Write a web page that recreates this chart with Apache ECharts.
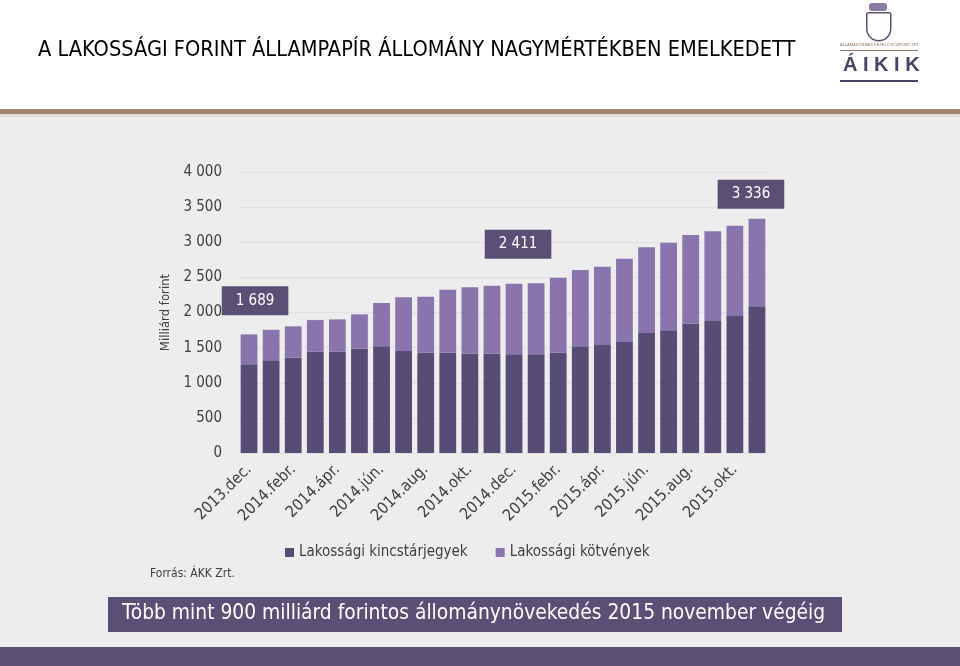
<!DOCTYPE html>
<html><head><meta charset="utf-8">
<script src="https://cdn.jsdelivr.net/npm/echarts@6/dist/echarts.min.js"></script>
<style>html,body{margin:0;padding:0;background:#eeedee;}#c{width:960px;height:666px;}</style>
</head><body><div id="c"></div>
<script>
const categories = ['2013.dec.','2014.jan.','2014.febr.','2014.márc.','2014.ápr.','2014.máj.','2014.jún.','2014.júl.','2014.aug.','2014.szept.','2014.okt.','2014.nov.','2014.dec.','2015.jan.','2015.febr.','2015.márc.','2015.ápr.','2015.máj.','2015.jún.','2015.júl.','2015.aug.','2015.szept.','2015.okt.','2015.nov.'];
const kincstarjegyek = [1265,1322,1361,1441,1441,1489,1518,1451,1432,1426,1418,1412,1404,1404,1426,1518,1536,1579,1707,1746,1845,1878,1949,2088];
const kotvenyek = [424,432,442,451,461,485,617,765,792,898,940,969,1007,1011,1069,1087,1116,1187,1221,1248,1259,1278,1287,1248];
const seriesNames = ['Lakossági kincstárjegyek','Lakossági kötvények'];
const yTicks = [0,500,1000,1500,2000,2500,3000,3500,4000];
const calloutIdx = [0,12,23];

const totals = kincstarjegyek.map((v,i)=>v+kotvenyek[i]);
const fmt = n => String(n).replace(/\B(?=(\d{3})+(?!\d))/g,' ');
const calloutOffsets = {0:[6,0],12:[4,0],23:[-6,0]};
const calloutDist = {0:19,12:25,23:10};
const COND = '"DejaVu Sans Condensed","Liberation Sans Narrow","DejaVu Sans",sans-serif';

const chart = echarts.init(document.getElementById('c'), null, {renderer:'canvas'});
chart.setOption({
  backgroundColor:'#eeedee',
  animation:false,
  graphic:[
    {type:'rect',left:0,top:0,shape:{width:960,height:109},style:{fill:'#ffffff'},z:-1},
    {type:'rect',left:0,top:109,shape:{width:960,height:5},style:{fill:'#a2836b'},z:-1},
    {type:'rect',left:0,top:114,shape:{width:960,height:3},style:{fill:'#e4ddd6'},z:-1},
    {type:'rect',left:0,top:647,shape:{width:960,height:19},style:{fill:'#5b4f76'},z:-1},
    {type:'text',left:38,top:39,style:{text:'A LAKOSSÁGI FORINT ÁLLAMPAPÍR ÁLLOMÁNY NAGYMÉRTÉKBEN EMELKEDETT',fill:'#000000',font:'21.6px "Liberation Sans Narrow","DejaVu Sans Condensed",sans-serif'}},
    {type:'text',left:843,top:55,style:{text:'Á I K I K',fill:'#4a4466',font:'bold 20px "Liberation Sans",sans-serif'}},
    {type:'rect',left:840,top:50,shape:{width:78,height:1},style:{fill:'#8a6f5a'}},
    {type:'rect',left:840,top:80,shape:{width:78,height:2},style:{fill:'#4a4466'}},
    {type:'text',left:840,top:43,style:{text:'ÁLLAMADÓSSÁG KEZELŐ KÖZPONT ZRT.',fill:'#8a6f5a',font:'4px sans-serif'}},
    {type:'rect',left:866,top:12,shape:{width:24,height:28,r:[2,2,12,12]},style:{fill:'#ffffff',stroke:'#5b4f76',lineWidth:1.5}},
    {type:'rect',left:869,top:3,shape:{width:18,height:8,r:3},style:{fill:'#8b7aa8'}},
    {type:'text',left:150,top:568,style:{text:'Forrás: ÁKK Zrt.',fill:'#3f3f3f',font:'12px '+COND}},
    {type:'rect',left:108,top:597,shape:{width:734,height:35},style:{fill:'#5b4f76'}},
    {type:'text',left:122,top:603,style:{text:'Több mint 900 milliárd forintos állománynövekedés 2015 november végéig',fill:'#ffffff',font:'20.8px '+COND}}
  ],
  grid:{left:238,right:192,top:172,bottom:213,containLabel:false},
  legend:{
    data:seriesNames,left:280,top:540,itemWidth:9,itemHeight:9,itemGap:28,icon:'rect',
    textStyle:{color:'#404040',fontSize:15,fontFamily:COND}
  },
  xAxis:{
    type:'category',data:categories,
    axisLine:{show:false},axisTick:{show:false},
    axisLabel:{interval:1,rotate:45,color:'#404040',fontSize:16,fontFamily:COND,margin:14}
  },
  yAxis:{
    type:'value',min:0,max:4000,interval:500,
    name:'Milliárd forint',nameLocation:'middle',nameGap:53,
    nameTextStyle:{color:'#404040',fontSize:13,fontFamily:COND},
    axisLine:{show:false},axisTick:{show:false},
    splitLine:{lineStyle:{color:'#e2e0e2',width:1}},
    axisLabel:{color:'#404040',fontSize:15,fontFamily:COND,margin:16,
      formatter:v=>yTicks.includes(v)?fmt(v):''}
  },
  series:[
    {name:seriesNames[0],type:'bar',stack:'t',data:kincstarjegyek,barCategoryGap:'24%',
      itemStyle:{color:'#574c74'}},
    {name:seriesNames[1],type:'bar',stack:'t',barCategoryGap:'24%',
      itemStyle:{color:'#8a74ae'},
      data:kotvenyek.map((v,i)=>{
        const d={value:v};
        if(calloutIdx.includes(i)){
          d.label={show:true,position:'top',distance:calloutDist[i],
            offset:calloutOffsets[i],
            formatter:()=>fmt(totals[i]),
            backgroundColor:'#5b4f76',color:'#ffffff',fontSize:15,fontFamily:COND,
            padding:[7,14,7,14]};
        }
        return d;
      })}
  ]
});
</script></body></html>
